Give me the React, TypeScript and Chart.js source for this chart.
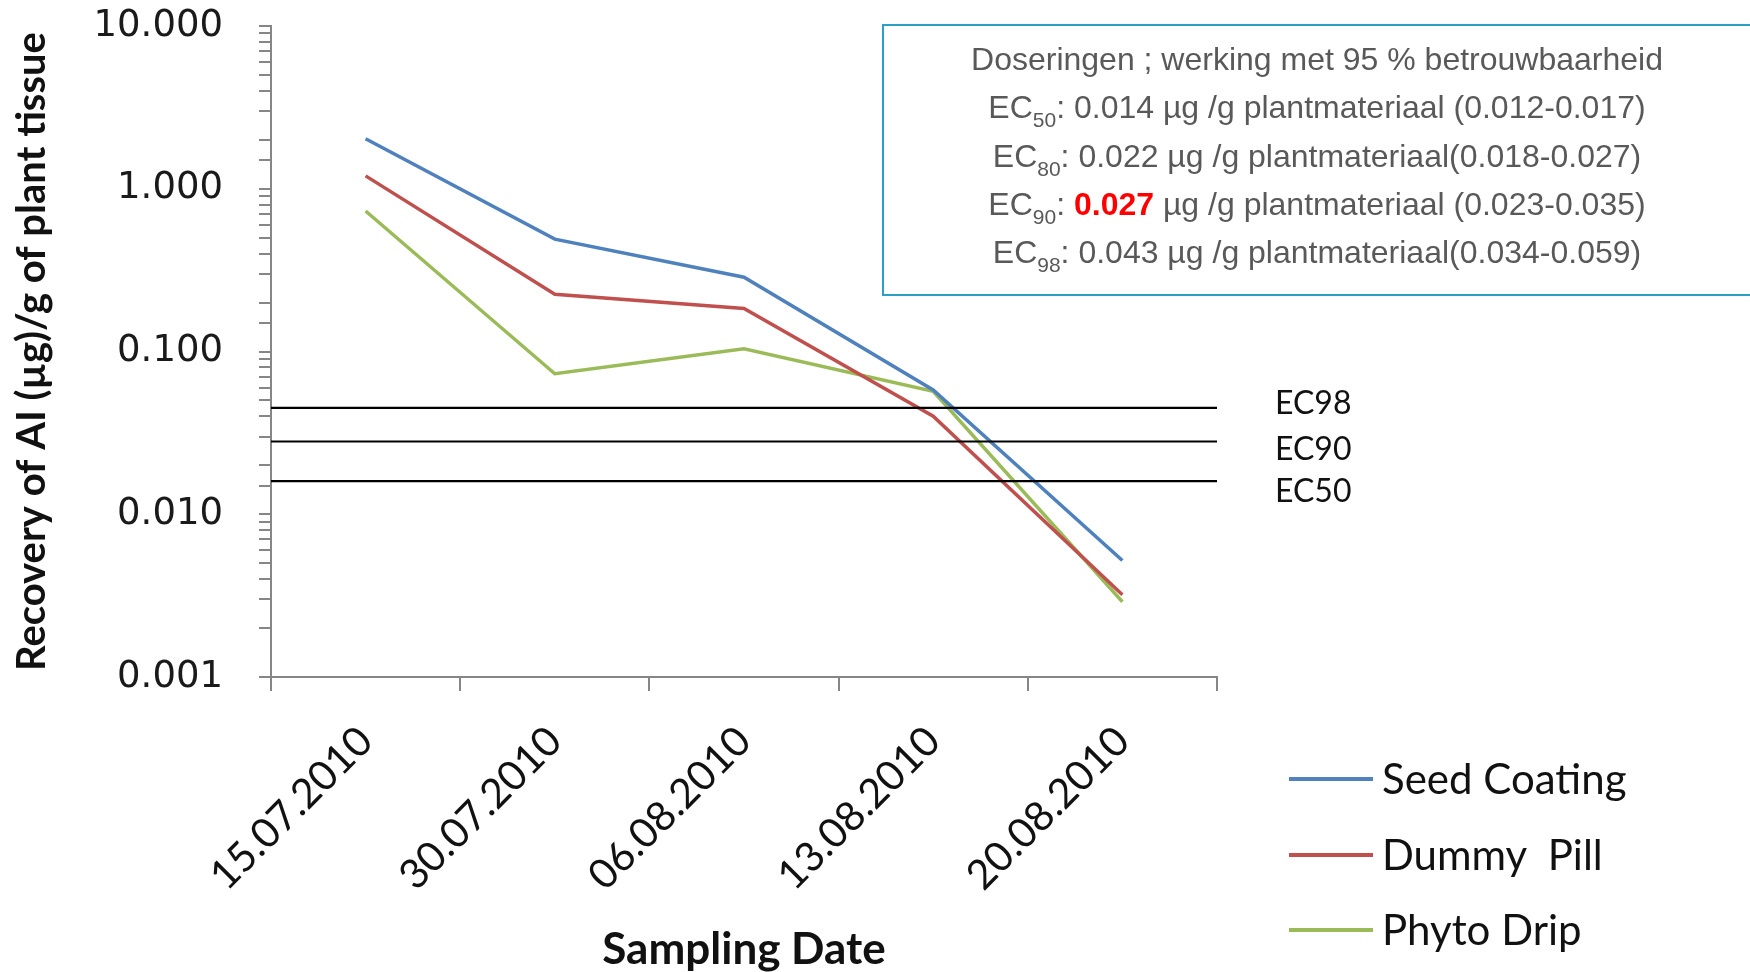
import React, { useEffect, useRef } from "react";
import { Chart, registerables } from "chart.js";
Chart.register(...registerables);

const categories = ["15.07.2010", "30.07.2010", "06.08.2010", "13.08.2010", "20.08.2010"];
const seedCoating = [2.03, 0.49, 0.286, 0.058, 0.0052];
const dummyPill = [1.2, 0.225, 0.184, 0.04, 0.0032];
const phytoDrip = [0.73, 0.073, 0.104, 0.057, 0.0029];
const seriesNames = ["Seed Coating", "Dummy  Pill", "Phyto Drip"];
const seriesColors = ["#4F81BD", "#C0504D", "#9BBB59"];
const yTickLabels = ["0.001", "0.010", "0.100", "1.000", "10.000"];
const ecLabels = ["EC98", "EC90", "EC50"];
const ecValues = [0.045, 0.028, 0.016];
const ecLabelShift = [-4, 8, 11];

const boxLines = [
  { pre: "", sub: "", red: "", rest: "Doseringen ; werking met 95 % betrouwbaarheid" },
  { pre: "EC", sub: "50", red: "", rest: ": 0.014 µg /g plantmateriaal (0.012-0.017)" },
  { pre: "EC", sub: "80", red: "", rest: ": 0.022 µg /g plantmateriaal(0.018-0.027)" },
  { pre: "EC", sub: "90", red: "0.027", rest: " µg /g plantmateriaal (0.023-0.035)" },
  { pre: "EC", sub: "98", red: "", rest: ": 0.043 µg /g plantmateriaal(0.034-0.059)" },
];

const ecPlugin = {
  id: "ecLines",
  afterDatasetsDraw(chart: any) {
    const { ctx, chartArea, scales } = chart;
    const y = scales.y;
    ctx.save();
    ecValues.forEach((v, i) => {
      const py = y.getPixelForValue(v);
      ctx.strokeStyle = "#000";
      ctx.lineWidth = 2.2;
      ctx.beginPath();
      ctx.moveTo(chartArea.left, py);
      ctx.lineTo(chartArea.right, py);
      ctx.stroke();
      ctx.fillStyle = "#111";
      ctx.font = "32px Lato";
      ctx.textAlign = "left";
      ctx.textBaseline = "middle";
      ctx.fillText(ecLabels[i], chartArea.right + 58, py + ecLabelShift[i]);
    });
    ctx.restore();
  },
};

export default function App() {
  const ref = useRef<HTMLCanvasElement | null>(null);
  useEffect(() => {
    if (!ref.current) return;
    const data = [seedCoating, dummyPill, phytoDrip];
    const chart = new Chart(ref.current, {
      type: "line",
      data: {
        labels: categories,
        datasets: data.map((d, i) => ({
          label: seriesNames[i],
          data: d,
          borderColor: seriesColors[i],
          backgroundColor: seriesColors[i],
          borderWidth: 3.5,
          pointRadius: 0,
          tension: 0,
          fill: false,
        })),
      },
      options: {
        animation: false,
        responsive: false,
        maintainAspectRatio: false,
        layout: { padding: { left: 0, right: 533, top: 26, bottom: 0 } },
        plugins: { legend: { display: false }, tooltip: { enabled: false } },
        scales: {
          x: {
            type: "category",
            offset: true,
            grid: { offset: true, drawOnChartArea: false, drawTicks: true, tickLength: 14, color: "#868686", lineWidth: 2 },
            border: { color: "#868686", width: 2 },
            ticks: {
              autoSkip: false,
              maxRotation: 45,
              minRotation: 45,
              padding: 26,
              color: "#111",
              font: { family: "Lato", size: 41 },
            },
            title: {
              display: true,
              text: "Sampling Date",
              color: "#111",
              font: { family: "Lato", size: 44, weight: "bold", lineHeight: 1 },
              padding: 0,
            },
            afterFit: (s: any) => {
              s.height = 295;
              s.paddingLeft = 0;
              s.paddingRight = 0;
            },
          },
          y: {
            type: "logarithmic",
            min: 0.001,
            max: 10,
            grid: { drawOnChartArea: false, drawTicks: true, tickLength: 12, color: "#868686", lineWidth: 2 },
            border: { color: "#868686", width: 2 },
            ticks: {
              autoSkip: false,
              padding: 36,
              color: "#1a1a1a",
              font: { family: "DejaVu Sans", size: 37 },
              callback: (v: any) => {
                const l = Math.log10(Number(v));
                const r = Math.round(l);
                if (Math.abs(l - r) < 1e-6) return yTickLabels[r + 3];
                return "";
              },
            },
            title: {
              display: true,
              text: "Recovery of AI (µg)/g of plant tissue",
              color: "#111",
              font: { family: "Lato", size: 40, weight: "bold", lineHeight: 1.2 },
              padding: { top: 8, bottom: 0 },
            },
            afterFit: (s: any) => {
              s.width = 271;
              s.paddingTop = 0;
              s.paddingBottom = 0;
            },
          },
        },
      },
      plugins: [ecPlugin],
    });
    return () => chart.destroy();
  }, []);

  return (
    <div style={{ position: "fixed", left: 0, top: 0, width: 1750, height: 972, overflow: "hidden", background: "#fff" }}>
      <canvas ref={ref} width={1750} height={972} style={{ position: "absolute", left: 0, top: 0, width: 1750, height: 972 }} />
      <div
        style={{
          position: "absolute",
          left: 882,
          top: 24,
          width: 870,
          height: 272,
          border: "2px solid #2AA1C4",
          boxSizing: "border-box",
          paddingTop: 9,
          fontFamily: "'Liberation Sans', Arial, sans-serif",
          fontSize: 32,
          lineHeight: "48.3px",
          color: "#595959",
          textAlign: "center",
        }}
      >
        {boxLines.map((l, i) => (
          <div key={i} style={{ whiteSpace: "nowrap" }}>
            {l.pre}
            {l.sub ? (
              <span style={{ fontSize: 21, position: "relative", top: 9, lineHeight: 0 }}>{l.sub}</span>
            ) : null}
            {l.red ? (
              <>
                {": "}
                <span style={{ color: "#FF0000", fontWeight: "bold" }}>{l.red}</span>
              </>
            ) : null}
            {l.rest}
          </div>
        ))}
      </div>
      {seriesNames.map((n, i) => (
        <React.Fragment key={n}>
          <div
            style={{
              position: "absolute",
              left: 1289,
              top: 777 + 75.5 * i,
              width: 84,
              height: 4,
              background: seriesColors[i],
            }}
          />
          <div
            style={{
              position: "absolute",
              left: 1382,
              top: 753 + 75.5 * i,
              fontFamily: "Lato",
              fontSize: 42,
              lineHeight: "50px",
              color: "#111",
              whiteSpace: "pre",
            }}
          >
            {n}
          </div>
        </React.Fragment>
      ))}
    </div>
  );
}
